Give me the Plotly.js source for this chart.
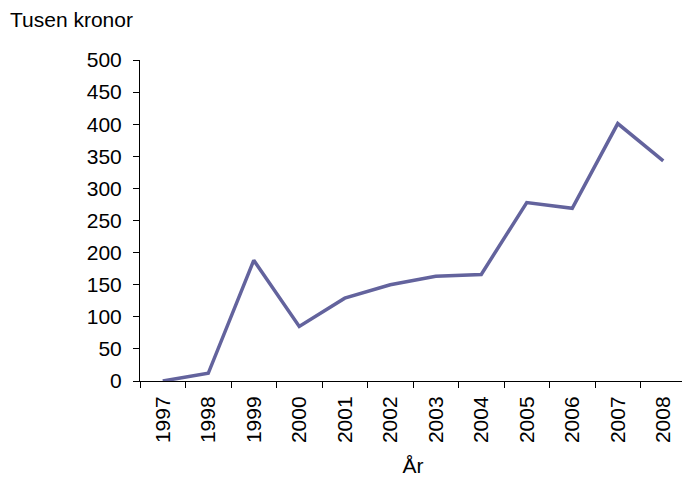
<!DOCTYPE html>
<html>
<head>
<meta charset="utf-8">
<script src="https://cdn.plot.ly/plotly-3.0.1.min.js"></script>
<style>
html,body{margin:0;padding:0;overflow:hidden;background:#fff;}
#chart{width:686px;height:477px;}
</style>
</head>
<body>
<div id="chart"></div>
<script>
const years = ['1997','1998','1999','2000','2001','2002','2003','2004','2005','2006','2007','2008'];
const values = [0, 12, 188, 85, 129, 150, 163, 166, 278, 269, 401, 343];
const yTicks = [0, 50, 100, 150, 200, 250, 300, 350, 400, 450, 500];

const FS = 21;
const font = {family: 'Liberation Sans, Arial, sans-serif', size: FS, color: '#000'};

Plotly.newPlot('chart', [{
  type: 'scatter',
  mode: 'lines',
  x: years,
  y: values,
  line: {color: '#63639d', width: 3.5},
  hoverinfo: 'none'
}], {
  width: 686,
  height: 477,
  margin: {l: 140, r: 0, t: 60, b: 96},
  paper_bgcolor: '#fff',
  plot_bgcolor: '#fff',
  font: font,
  showlegend: false,
  title: {
    text: 'Tusen kronor',
    xref: 'container', yref: 'container',
    x: 10/686, xanchor: 'left',
    y: 1 - 20/477, yanchor: 'middle',
    font: font
  },
  xaxis: {
    type: 'category',
    range: [-0.5, 11.5],
    showline: true, linecolor: '#000', linewidth: 1,
    ticks: 'outside', ticklen: 6, tickcolor: '#000', tickwidth: 1,
    tickson: 'boundaries',
    tickangle: -90,
    ticklabelstandoff: 6,
    tickfont: font,
    showgrid: false, zeroline: false,
    title: {text: 'År', standoff: 18, font: font}
  },
  yaxis: {
    range: [0, 500],
    tickvals: yTicks,
    showline: true, linecolor: '#000', linewidth: 1,
    ticks: 'outside', ticklen: 6, tickcolor: '#000', tickwidth: 1,
    ticklabelstandoff: 7,
    tickfont: font,
    showgrid: false, zeroline: false
  }
}, {staticPlot: true});
</script>
</body>
</html>
